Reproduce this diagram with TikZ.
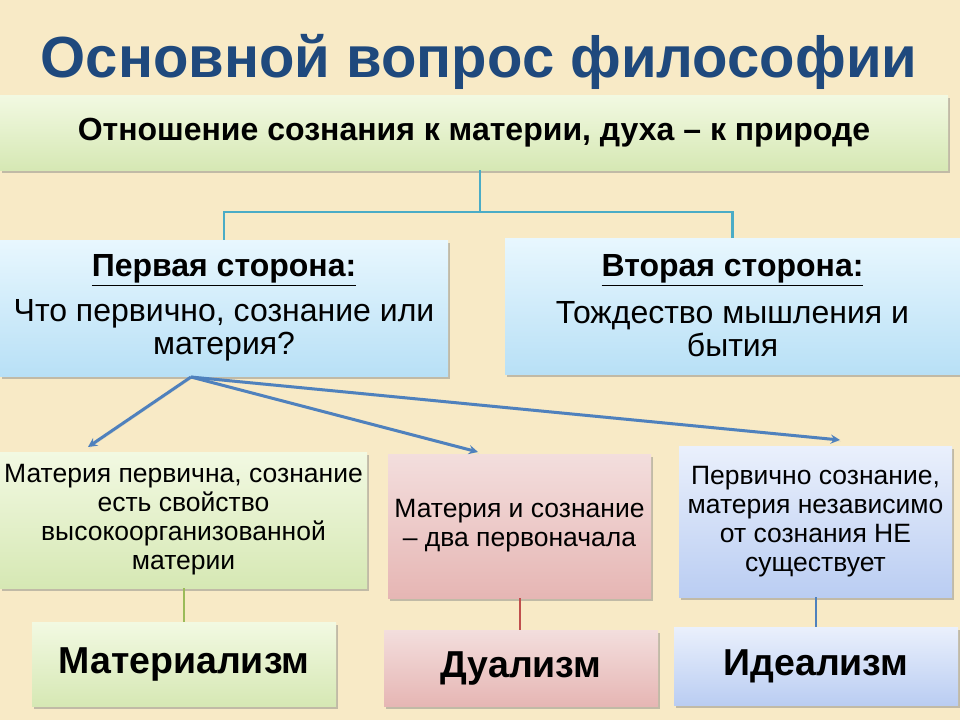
\documentclass[tikz,border=0pt]{standalone}
\usepackage{fontspec}
\setmainfont{Liberation Sans}
\usepackage{tikz}
\usetikzlibrary{positioning,arrows,shadows}

\definecolor{paper}{RGB}{248,234,198}
\definecolor{titleblue}{RGB}{31,73,125}
\definecolor{linkteal}{RGB}{75,172,198}
\definecolor{arrowblue}{RGB}{79,129,189}
\definecolor{linkgreen}{RGB}{155,187,89}
\definecolor{linkred}{RGB}{192,80,77}

\begin{document}
\begin{tikzpicture}[x=1pt, y=-1pt,
  box/.style={inner sep=2pt, align=center, text=black,
    drop shadow={shadow xshift=1.5pt, shadow yshift=-2.5pt, opacity=0.45}},
  greenbox/.style={box, top color={rgb,255:red,242;green,249;blue,226}, bottom color={rgb,255:red,214;green,232;blue,180}},
  bluebox/.style={box, top color={rgb,255:red,232;green,247;blue,254}, bottom color={rgb,255:red,184;green,224;blue,246}},
  pinkbox/.style={box, top color={rgb,255:red,243;green,222;blue,221}, bottom color={rgb,255:red,230;green,182;blue,180}},
  lilacbox/.style={box, top color={rgb,255:red,234;green,240;blue,252}, bottom color={rgb,255:red,186;green,205;blue,242}},
  bodytext/.style={font=\fontsize{32}{33}\selectfont},
  smalltext/.style={font=\fontsize{26.5}{29}\selectfont},
  bigtext/.style={font=\fontsize{37.5}{42}\selectfont\bfseries},
  fork/.style={-stealth, line width=3pt, draw=arrowblue,
    drop shadow={shadow xshift=1pt, shadow yshift=-1.5pt, opacity=0.4}}]

% Background
\fill [paper] (0,0) rectangle (960,720);
\useasboundingbox (0,0) rectangle (960,720);

% Title
\node [font=\fontsize{58}{64}\selectfont\bfseries, text=titleblue] (title) at (479,62) {Основной вопрос философии};

% Question
\node [greenbox, minimum width=948pt, minimum height=75pt, font=\fontsize{32}{36}\selectfont\bfseries]
  (question) at (474,132.5) {Отношение сознания к материи, духа – к природе};

% Two sides
\node [bluebox, minimum width=448pt, minimum height=136pt, bodytext]
  (first) at (224,308) {\textbf{\underline{Первая сторона:}}\\[12pt]Что первично, сознание или\\материя?};
\node [bluebox, minimum width=455pt, minimum height=136pt, bodytext]
  (second) at (732.5,306) {\textbf{\underline{Вторая сторона:}}\\[14pt]Тождество мышления и\\бытия};

\coordinate (junction) at (480,212);
\draw [linkteal, line width=2.5pt] (question.south -| junction) -- (junction);
\draw [linkteal, line width=2.5pt] (first.north) |- (junction) -| (second.north);

% Answers
\node [greenbox, minimum width=367pt, minimum height=136pt, smalltext]
  (matter) at (183.5,520) {Материя первична, сознание\\есть свойство\\высокоорганизованной\\материи};
\node [pinkbox, minimum width=263pt, minimum height=144pt, smalltext]
  (both) at (519.5,526) {Материя и сознание\\– два первоначала};
\node [lilacbox, minimum width=273pt, minimum height=151pt, smalltext]
  (mind) at (815.5,521.5) {Первично сознание,\\материя независимо\\от сознания НЕ\\существует};

% Arrows from the first side
\coordinate (split) at (191,377);
\coordinate (tomatter) at (88,447);
\coordinate (toboth) at (478,452);
\coordinate (tomind) at (840,440);
\draw [fork] (split) -- (tomatter);
\draw [fork] (split) -- (toboth);
\draw [fork] (split) -- (tomind);

% Schools
\node [greenbox, minimum width=304pt, minimum height=84pt, bigtext]
  (materialism) at (184,664) {Материализм};
\node [pinkbox, minimum width=274pt, minimum height=76pt, bigtext]
  (dualism) at (521,668) {Дуализм};
\node [lilacbox, minimum width=284pt, minimum height=78pt, bigtext]
  (idealism) at (816,666) {Идеализм};

\draw [linkgreen, line width=2pt] (matter.south) -- (matter.south |- materialism.north);
\draw [linkred, line width=2pt] (both.south) -- (both.south |- dualism.north);
\draw [arrowblue, line width=2pt] (mind.south) -- (mind.south |- idealism.north);
\end{tikzpicture}
\end{document}
